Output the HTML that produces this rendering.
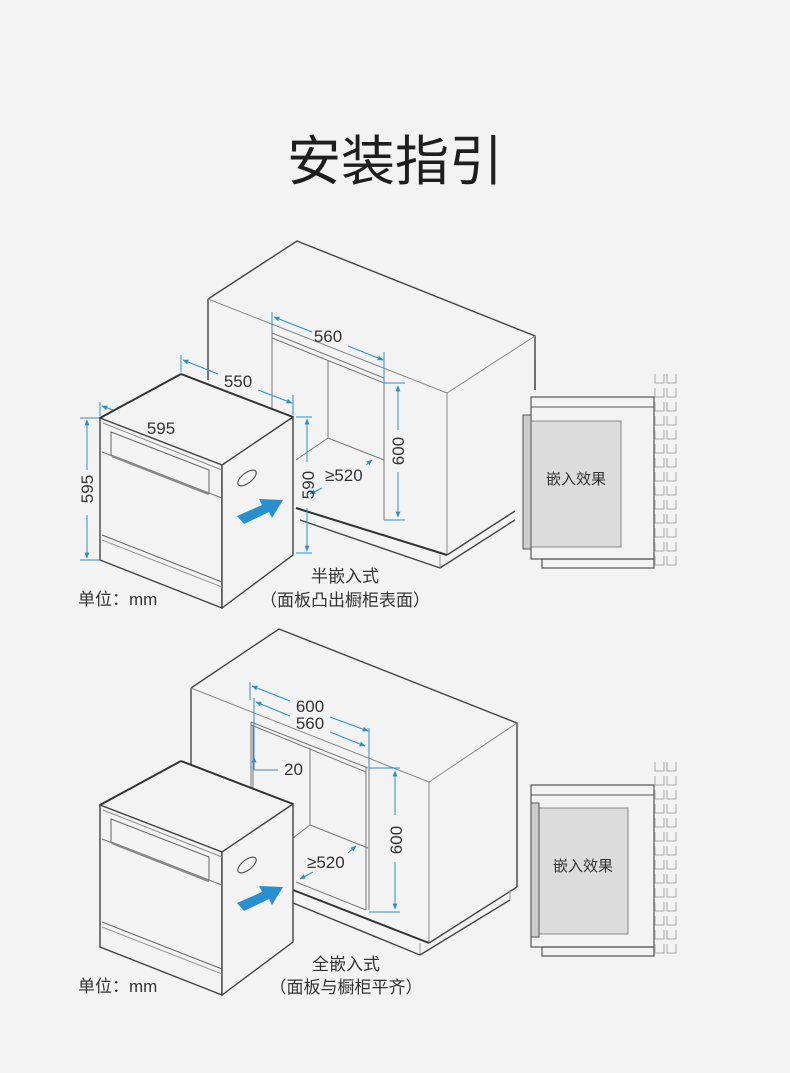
<!DOCTYPE html>
<html><head><meta charset="utf-8"><style>
html,body{margin:0;padding:0;background:#f3f3f3;}
svg{display:block;}
text{font-family:"Liberation Sans","Noto Sans CJK SC",sans-serif;fill:#333;}
</style></head><body>
<svg width="790" height="1073" viewBox="0 0 790 1073" xmlns="http://www.w3.org/2000/svg">
<defs>
<marker id="ar" viewBox="0 0 10 10" refX="9" refY="5" markerWidth="6" markerHeight="6" orient="auto-start-reverse"><path d="M0,1 L10,5 L0,9 z" fill="#2a8fd0"/></marker>
<g id="dw">
  <polygon points="100,418 181,374 293,417 222,465" fill="#f3f3f3" stroke="#444" stroke-width="1.2"/>
  <polygon points="100,418 222,465 222,608 100,560" fill="#f3f3f3" stroke="#444" stroke-width="1.4"/>
  <polygon points="222,465 293,417 293,555 222,608" fill="#f3f3f3" stroke="#444" stroke-width="1.4"/>
  <line x1="100" y1="418" x2="181" y2="374" stroke="#333" stroke-width="2"/>
  <line x1="181" y1="374" x2="293" y2="417" stroke="#333" stroke-width="2"/>
  <line x1="103" y1="423" x2="222" y2="470" stroke="#888" stroke-width="1"/>
  <polygon points="111,432 209,470 209,493 111,455" fill="none" stroke="#666" stroke-width="1"/>
  <line x1="102" y1="452" x2="222" y2="498" stroke="#777" stroke-width="1"/>
  <line x1="112" y1="456" x2="209" y2="494" stroke="#888" stroke-width="2.5"/>
  <line x1="102" y1="535" x2="222" y2="582" stroke="#666" stroke-width="1"/>
  <line x1="102" y1="540" x2="222" y2="587" stroke="#999" stroke-width="1"/>
  <ellipse cx="247" cy="478" rx="11" ry="5" transform="rotate(-38 247 478)" fill="none" stroke="#555" stroke-width="1.2"/>
  <polygon points="237,516 262,505 259,499 283,500 272,518 269,512 244,524" fill="#2a8fd0"/>
</g>
</defs>

<text x="395" y="180" font-size="54" text-anchor="middle" style="fill:#1e1e1e">安装指引</text>

<!-- ===== Scene 1 cabinet ===== -->
<g fill="none" stroke="#444" stroke-width="1.4">
  <polyline points="208,299 297,241 535,336 535,390"/>
  <line x1="208" y1="299" x2="208" y2="380"/>
  <line x1="208" y1="299" x2="447" y2="393" stroke="#888" stroke-width="1"/>
  <line x1="447" y1="393" x2="535" y2="336" stroke="#888" stroke-width="1"/>
  <line x1="447" y1="393" x2="447" y2="555" stroke="#888" stroke-width="1"/>
  <line x1="296" y1="508" x2="447" y2="555" stroke="#333" stroke-width="2"/>
  <line x1="447" y1="555" x2="515" y2="511"/>
  <line x1="440" y1="555" x2="440" y2="568" stroke="#999" stroke-width="1"/>
  <line x1="300" y1="520" x2="440" y2="568"/>
  <line x1="440" y1="568" x2="515" y2="520"/>
</g>
<g fill="none" stroke="#777" stroke-width="1">
  <line x1="272" y1="312" x2="272" y2="410"/>
  <line x1="272" y1="338" x2="384" y2="383"/>
  <line x1="272" y1="333" x2="384" y2="378"/>
  <line x1="328" y1="360" x2="328" y2="438"/>
  <line x1="328" y1="438" x2="384" y2="460"/>
  <line x1="328" y1="438" x2="296" y2="460"/>
  <line x1="384" y1="380" x2="384" y2="520"/>
</g>
<g stroke="#2a8fd0" stroke-width="1" fill="none">
  <line x1="272" y1="312" x2="272" y2="330"/>
  <line x1="384" y1="352" x2="384" y2="385"/>
  <line x1="274" y1="317" x2="312" y2="332" marker-start="url(#ar)"/>
  <line x1="348" y1="346" x2="383" y2="360" marker-end="url(#ar)"/>
  <line x1="384" y1="383" x2="405" y2="383"/>
  <line x1="384" y1="520" x2="405" y2="520"/>
  <line x1="398" y1="386" x2="398" y2="430" marker-start="url(#ar)"/>
  <line x1="398" y1="472" x2="398" y2="517" marker-end="url(#ar)"/>
  <line x1="181" y1="355" x2="181" y2="372"/>
  <line x1="293" y1="395" x2="293" y2="415"/>
  <line x1="183" y1="360" x2="218" y2="374" marker-start="url(#ar)"/>
  <line x1="258" y1="390" x2="292" y2="403" marker-end="url(#ar)"/>
  <line x1="100" y1="402" x2="100" y2="416"/>
  <line x1="222" y1="447" x2="222" y2="463"/>
  <line x1="102" y1="406" x2="140" y2="420" marker-start="url(#ar)"/>
  <line x1="180" y1="436" x2="220" y2="451" marker-end="url(#ar)"/>
  <line x1="80" y1="418" x2="100" y2="418"/>
  <line x1="80" y1="560" x2="100" y2="560"/>
  <line x1="87" y1="420" x2="87" y2="470" marker-start="url(#ar)"/>
  <line x1="87" y1="515" x2="87" y2="558" marker-end="url(#ar)"/>
  <line x1="296" y1="417" x2="312" y2="417"/>
  <line x1="296" y1="553" x2="312" y2="553"/>
  <line x1="307" y1="419" x2="307" y2="462" marker-start="url(#ar)"/>
  <line x1="307" y1="508" x2="307" y2="551" marker-end="url(#ar)"/>
  <line x1="322" y1="488" x2="310" y2="494" marker-end="url(#ar)"/>
  <line x1="366" y1="465" x2="372" y2="460" marker-end="url(#ar)"/>
</g>
<use href="#dw"/>
<g font-size="17">
  <text x="328" y="342" text-anchor="middle">560</text>
  <text x="238" y="387" text-anchor="middle">550</text>
  <text x="161" y="434" text-anchor="middle">595</text>
  <text transform="translate(93,489) rotate(-90)" text-anchor="middle">595</text>
  <text transform="translate(314,485) rotate(-90)" text-anchor="middle">590</text>
  <text transform="translate(404,451) rotate(-90)" text-anchor="middle">600</text>
  <text x="325" y="481">≥520</text>
  <text x="345" y="582" text-anchor="middle">半嵌入式</text>
  <text x="345" y="606" text-anchor="middle">（面板凸出橱柜表面）</text>
  <text x="78" y="605">单位：mm</text>
</g>

<g>
  <line x1="535" y1="360" x2="535" y2="390" stroke="#444" stroke-width="1.2"/>
  <rect x="531" y="397" width="123" height="162" fill="#f3f3f3" stroke="#555" stroke-width="1.2"/>
  <line x1="531" y1="407" x2="654" y2="407" stroke="#555"/>
  <rect x="531" y="421" width="90" height="126" fill="#dcdcdc" stroke="#888"/>
  <rect x="523" y="415" width="8" height="134" fill="#ccc" stroke="#555"/>
  <rect x="542" y="559" width="112" height="9" fill="none" stroke="#555" stroke-width="1.2"/>
</g>
<text x="576" y="484" font-size="15" text-anchor="middle">嵌入效果</text>
<g fill="none" stroke="#aaa" stroke-width="1" id="tiles1">
  <path d="M655,374 v9 h9 v-9 M667,374 v9 h9 v-9 M655,388 v9 h9 v-9 M667,388 v9 h9 v-9 M655,402 v9 h9 v-9 M667,402 v9 h9 v-9 M655,416 v9 h9 v-9 M667,416 v9 h9 v-9 M655,430 v9 h9 v-9 M667,430 v9 h9 v-9 M655,444 v9 h9 v-9 M667,444 v9 h9 v-9 M655,458 v9 h9 v-9 M667,458 v9 h9 v-9 M655,472 v9 h9 v-9 M667,472 v9 h9 v-9 M655,486 v9 h9 v-9 M667,486 v9 h9 v-9 M655,500 v9 h9 v-9 M667,500 v9 h9 v-9 M655,514 v9 h9 v-9 M667,514 v9 h9 v-9 M655,528 v9 h9 v-9 M667,528 v9 h9 v-9 M655,542 v9 h9 v-9 M667,542 v9 h9 v-9 M655,556 v9 h9 v-9 M667,556 v9 h9 v-9"/>
</g>

<!-- ===== Scene 2 cabinet ===== -->
<g fill="none" stroke="#444" stroke-width="1.4">
  <polyline points="191,688 279,629 517,723 517,887"/>
  <line x1="191" y1="688" x2="191" y2="770"/>
  <line x1="191" y1="688" x2="429" y2="782" stroke="#888" stroke-width="1"/>
  <line x1="429" y1="782" x2="517" y2="723" stroke="#888" stroke-width="1"/>
  <line x1="429" y1="782" x2="429" y2="943" stroke="#888" stroke-width="1"/>
  <line x1="293" y1="890" x2="429" y2="943" stroke="#333" stroke-width="2"/>
  <line x1="429" y1="943" x2="517" y2="887"/>
  <line x1="420" y1="943" x2="420" y2="955" stroke="#999" stroke-width="1"/>
  <line x1="293" y1="903" x2="420" y2="955"/>
  <line x1="420" y1="955" x2="510" y2="900"/>
  <line x1="510" y1="890" x2="510" y2="900" stroke="#999" stroke-width="1"/>
</g>
<g fill="none" stroke="#777" stroke-width="1">
  <line x1="251" y1="722" x2="251" y2="790"/>
  <line x1="253" y1="725" x2="253" y2="790"/>
  <line x1="251" y1="722" x2="368" y2="768"/>
  <line x1="251" y1="725" x2="366" y2="772"/>
  <line x1="310" y1="748" x2="310" y2="825"/>
  <line x1="310" y1="825" x2="368" y2="848"/>
  <line x1="310" y1="825" x2="293" y2="838"/>
  <line x1="366" y1="768" x2="366" y2="910"/>
  <line x1="369" y1="768" x2="369" y2="910"/>
  <line x1="296" y1="882" x2="366" y2="910"/>
</g>
<g stroke="#2a8fd0" stroke-width="1" fill="none">
  <line x1="250" y1="682" x2="250" y2="700"/>
  <line x1="254" y1="698" x2="254" y2="770"/>
  <line x1="369" y1="728" x2="369" y2="768"/>
  <line x1="252" y1="686" x2="290" y2="701" marker-start="url(#ar)"/>
  <line x1="330" y1="717" x2="368" y2="731" marker-end="url(#ar)"/>
  <line x1="256" y1="702" x2="290" y2="716" marker-start="url(#ar)"/>
  <line x1="330" y1="732" x2="365" y2="746" marker-end="url(#ar)"/>
  <line x1="254" y1="770" x2="278" y2="770"/>
  <line x1="254" y1="770" x2="254" y2="757" marker-end="url(#ar)"/>
  <line x1="369" y1="768" x2="400" y2="768"/>
  <line x1="369" y1="912" x2="400" y2="912"/>
  <line x1="395" y1="771" x2="395" y2="815" marker-start="url(#ar)"/>
  <line x1="395" y1="862" x2="395" y2="909" marker-end="url(#ar)"/>
  <line x1="313" y1="872" x2="300" y2="879" marker-end="url(#ar)"/>
  <line x1="348" y1="853" x2="356" y2="846" marker-end="url(#ar)"/>
</g>
<use href="#dw" transform="translate(0,387)"/>
<g font-size="17">
  <text x="310" y="712" text-anchor="middle">600</text>
  <text x="310" y="729" text-anchor="middle">560</text>
  <text x="284" y="775">20</text>
  <text transform="translate(402,840) rotate(-90)" text-anchor="middle">600</text>
  <text x="307" y="868">≥520</text>
  <text x="346" y="970" text-anchor="middle">全嵌入式</text>
  <text x="346" y="993" text-anchor="middle">（面板与橱柜平齐）</text>
  <text x="78" y="992">单位：mm</text>
</g>
<rect x="531" y="785" width="123" height="162" fill="#f3f3f3" stroke="#555" stroke-width="1.2"/>
<line x1="531" y1="795" x2="654" y2="795" stroke="#555"/>
<rect x="539" y="808" width="89" height="126" fill="#dcdcdc" stroke="#888"/>
<rect x="531" y="803" width="8" height="134" fill="#ccc" stroke="#555"/>
<rect x="542" y="947" width="112" height="9" fill="none" stroke="#555" stroke-width="1.2"/>
<text x="583" y="871" font-size="15" text-anchor="middle">嵌入效果</text>
<use href="#tiles1" transform="translate(0,388)"/>
</svg>
</body></html>
